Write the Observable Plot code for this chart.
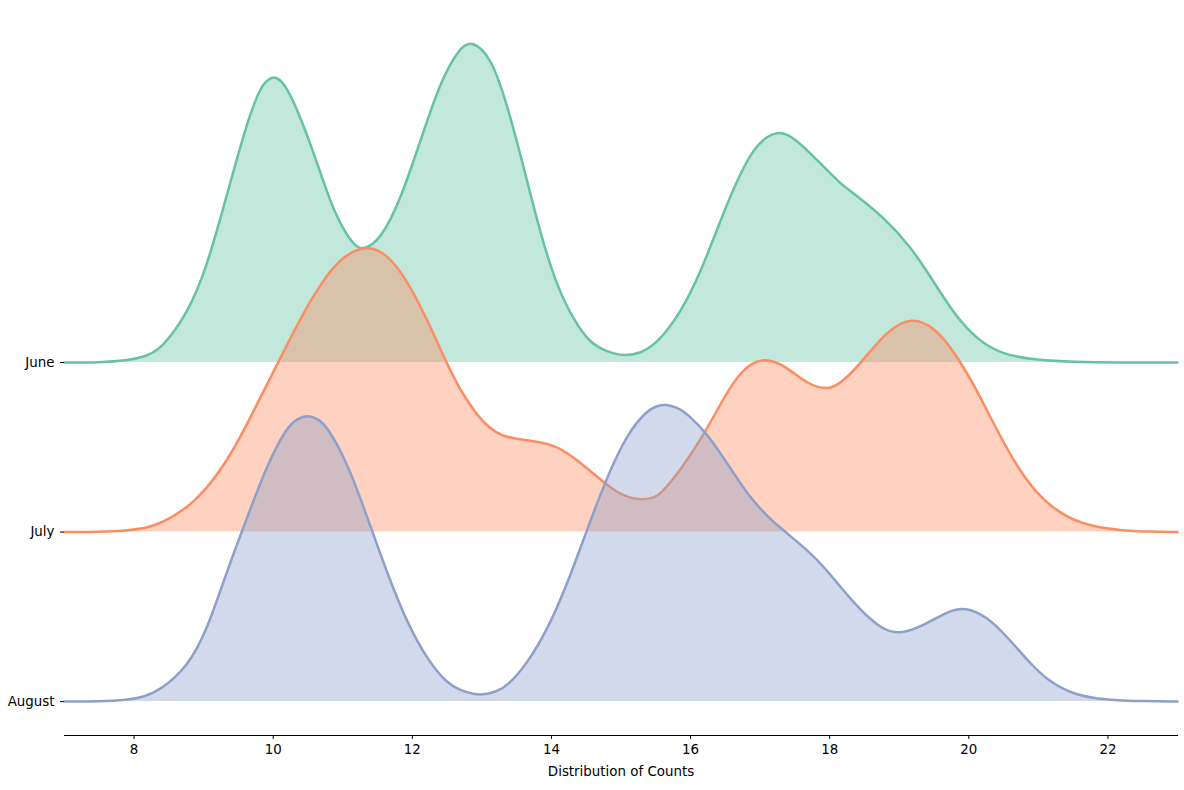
<!DOCTYPE html>
<html>
<head>
<meta charset="utf-8">
<script src="https://cdn.jsdelivr.net/npm/d3@7"></script>
<script src="https://cdn.jsdelivr.net/npm/@observablehq/plot@0.6"></script>
<style>
  html, body { margin: 0; padding: 0; background: #fff; overflow: hidden; }
  #chart svg { display: block; }
</style>
</head>
<body>
<div id="chart"></div>
<script>
// Months (top to bottom) and their colours
const months = ["June", "July", "August"];
const colors = ["#66c2a5", "#fc8d62", "#8da0cb"];
const xTicks = [8, 10, 12, 14, 16, 18, 20, 22];

// Density curves (height in units of row spacing)
const juneX = [7.0, 7.5, 7.9, 8.15, 8.38, 8.77, 9.05, 9.34, 9.63, 9.82, 9.92, 10.01, 10.1, 10.2, 10.35, 10.59, 10.87, 11.16, 11.3, 11.54, 11.83, 12.12, 12.41, 12.69, 12.86, 13.13, 13.36, 13.6, 13.84, 14.08, 14.32, 14.56, 14.8, 15.04, 15.28, 15.52, 15.85, 16.14, 16.43, 16.71, 16.95, 17.24, 17.48, 17.82, 18.15, 18.35, 18.82, 19.16, 19.45, 19.78, 20.12, 20.5, 20.98, 21.5, 22.2, 23.0];
const juneD = [0, 0.001, 0.011, 0.035, 0.074, 0.289, 0.566, 0.997, 1.428, 1.627, 1.668, 1.688, 1.670, 1.617, 1.490, 1.233, 0.879, 0.684, 0.664, 0.723, 0.959, 1.313, 1.667, 1.864, 1.900, 1.805, 1.528, 1.156, 0.761, 0.448, 0.251, 0.112, 0.064, 0.038, 0.054, 0.112, 0.289, 0.525, 0.841, 1.115, 1.292, 1.372, 1.333, 1.195, 1.056, 0.997, 0.841, 0.684, 0.507, 0.289, 0.133, 0.044, 0.015, 0.003, 0.0005, 0];

const julyX = [7.0, 7.5, 7.9, 8.15, 8.38, 8.86, 9.25, 9.53, 9.82, 10.11, 10.4, 10.68, 10.97, 11.35, 11.64, 11.93, 12.22, 12.5, 12.69, 12.98, 13.27, 13.65, 14.03, 14.32, 14.61, 14.9, 15.09, 15.28, 15.47, 15.57, 15.85, 16.14, 16.43, 16.71, 17.05, 17.39, 17.68, 17.96, 18.15, 18.44, 18.82, 19.18, 19.5, 19.78, 20.07, 20.36, 20.64, 20.93, 21.31, 21.7, 22.18, 22.6, 23.0];
const julyD = [0, 0.001, 0.009, 0.022, 0.047, 0.165, 0.363, 0.560, 0.796, 1.032, 1.268, 1.463, 1.622, 1.696, 1.640, 1.484, 1.248, 0.991, 0.835, 0.658, 0.560, 0.543, 0.519, 0.442, 0.342, 0.245, 0.205, 0.189, 0.202, 0.224, 0.363, 0.540, 0.755, 0.953, 1.038, 0.973, 0.873, 0.838, 0.873, 0.991, 1.189, 1.271, 1.209, 1.071, 0.873, 0.637, 0.422, 0.245, 0.106, 0.038, 0.009, 0.002, 0];

const augustX = [7.0, 7.5, 7.9, 8.15, 8.38, 8.77, 9.05, 9.34, 9.63, 9.92, 10.2, 10.35, 10.49, 10.64, 10.78, 11.07, 11.35, 11.64, 11.93, 12.22, 12.5, 12.69, 12.84, 13.01, 13.2, 13.36, 13.65, 13.94, 14.23, 14.51, 14.8, 15.09, 15.38, 15.52, 15.64, 15.81, 15.95, 16.24, 16.53, 16.81, 17.1, 17.39, 17.68, 17.96, 18.15, 18.44, 18.73, 19.01, 19.4, 19.69, 19.95, 20.26, 20.55, 20.84, 21.12, 21.51, 21.99, 22.5, 23.0];
const augustD = [0, 0.001, 0.009, 0.028, 0.068, 0.206, 0.422, 0.776, 1.091, 1.404, 1.622, 1.670, 1.690, 1.670, 1.622, 1.404, 1.091, 0.755, 0.460, 0.245, 0.106, 0.068, 0.048, 0.038, 0.058, 0.088, 0.224, 0.422, 0.696, 1.012, 1.327, 1.581, 1.720, 1.745, 1.755, 1.735, 1.699, 1.581, 1.404, 1.227, 1.091, 0.991, 0.894, 0.776, 0.678, 0.540, 0.431, 0.392, 0.460, 0.531, 0.560, 0.501, 0.383, 0.245, 0.127, 0.038, 0.009, 0.002, 0];

const series = [
  {month: "June", xs: juneX, ds: juneD},
  {month: "July", xs: julyX, ds: julyD},
  {month: "August", xs: augustX, ds: augustD}
];

const offsetOf = m => months.length - 1 - months.indexOf(m);
const colorOf = m => colors[months.indexOf(m)];

const marks = [];
for (const s of series) {
  const off = offsetOf(s.month);
  const rows = s.xs.map((x, i) => ({x, base: off, top: off + s.ds[i]}));
  const c = colorOf(s.month);
  marks.push(Plot.areaY(rows, {x: "x", y1: "base", y2: "top", fill: c, fillOpacity: 0.4, curve: "basis"}));
  marks.push(Plot.lineY(rows, {x: "x", y: "top", stroke: c, strokeWidth: 2.5, curve: "basis"}));
}

marks.push(Plot.frame({anchor: "bottom", stroke: "black", strokeWidth: 1}));
marks.push(Plot.axisX({
  ticks: xTicks, tickSize: 4, tickPadding: 5, stroke: "black",
  label: "Distribution of Counts", labelAnchor: "center", labelArrow: "none", labelOffset: 40
}));
marks.push(Plot.axisY({
  ticks: [0, 1, 2], tickSize: 4, tickPadding: 6,
  tickFormat: v => months[months.length - 1 - v], label: null
}));

const chart = Plot.plot({
  width: 1184,
  height: 790,
  marginLeft: 64,
  marginRight: 7,
  marginTop: 20,
  marginBottom: 55,
  x: {domain: [7, 23]},
  y: {domain: [-0.2, 4.018]},
  style: {fontFamily: "DejaVu Sans", fontSize: "13.4px", color: "black", background: "white"},
  marks
});
document.getElementById("chart").appendChild(chart);
</script>
</body>
</html>
